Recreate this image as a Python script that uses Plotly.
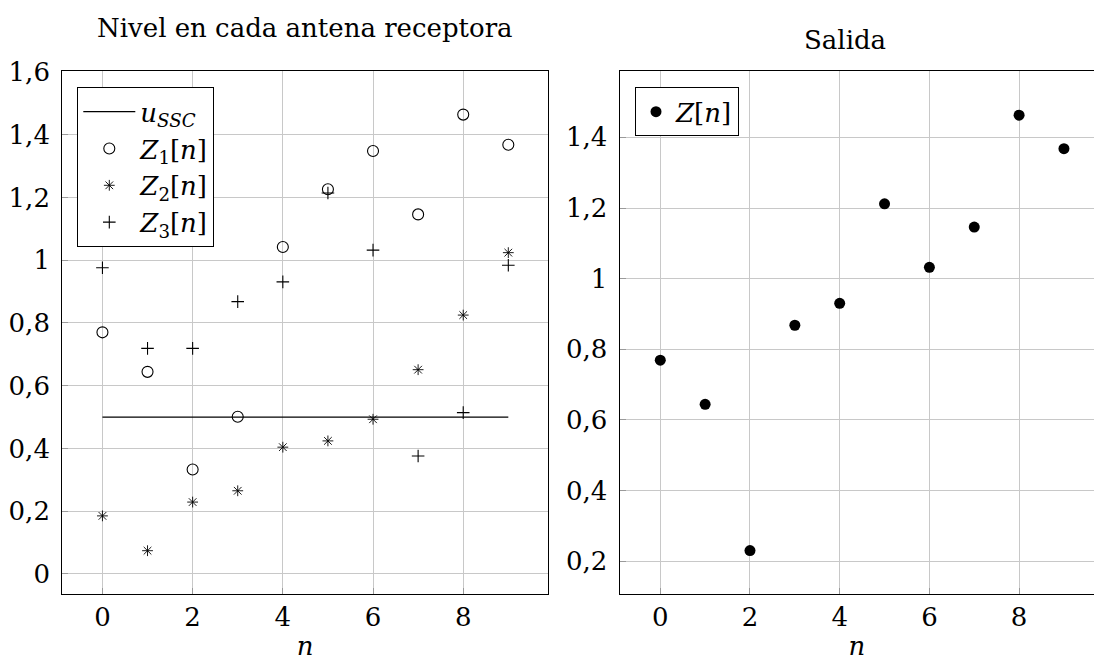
import plotly.graph_objects as go

# ---------------- data ----------------
n = [0, 1, 2, 3, 4, 5, 6, 7, 8, 9]
z1 = [0.770, 0.644, 0.333, 0.501, 1.042, 1.226, 1.348, 1.146, 1.464, 1.368]
z2 = [0.185, 0.074, 0.229, 0.265, 0.404, 0.424, 0.493, 0.651, 0.825, 1.024]
z3 = [0.976, 0.719, 0.719, 0.868, 0.931, 1.214, 1.032, 0.376, 0.514, 0.984]
z_out = [0.769, 0.644, 0.230, 0.868, 0.930, 1.212, 1.032, 1.146, 1.463, 1.368]
ussc_n = [0, 9]
ussc_val = [0.5, 0.5]

x_ticks = [0, 2, 4, 6, 8]
x_ticktext = ["0", "2", "4", "6", "8"]
y1_ticks = [0, 0.2, 0.4, 0.6, 0.8, 1.0, 1.2, 1.4, 1.6]
y1_ticktext = ["0", "0,2", "0,4", "0,6", "0,8", "1", "1,2", "1,4", "1,6"]
y2_ticks = [0.2, 0.4, 0.6, 0.8, 1.0, 1.2, 1.4]
y2_ticktext = ["0,2", "0,4", "0,6", "0,8", "1", "1,2", "1,4"]

title_left = "Nivel en cada antena receptora"
title_right = "Salida"

FONT = "DejaVu Serif"
FS = 26
W, H = 1094, 661

fig = go.Figure()

fig.add_trace(go.Scatter(x=ussc_n, y=ussc_val, mode="lines",
                         line=dict(color="black", width=1.2),
                         name="<i>u</i><sub><i>SSC</i></sub>",
                         xaxis="x", yaxis="y", legend="legend"))
fig.add_trace(go.Scatter(x=n, y=z1, mode="markers",
                         marker=dict(symbol="circle-open", size=11, color="black",
                                     line=dict(width=1.1, color="black")),
                         name="<i>Z</i><sub>1</sub>[<i>n</i>]",
                         xaxis="x", yaxis="y", legend="legend"))
fig.add_trace(go.Scatter(x=n, y=z2, mode="markers",
                         marker=dict(symbol="asterisk-open", size=9, color="black",
                                     line=dict(width=0.9, color="black")),
                         name="<i>Z</i><sub>2</sub>[<i>n</i>]",
                         xaxis="x", yaxis="y", legend="legend"))
fig.add_trace(go.Scatter(x=n, y=z3, mode="markers",
                         marker=dict(symbol="cross-thin-open", size=9, color="black",
                                     line=dict(width=1.1, color="black")),
                         name="<i>Z</i><sub>3</sub>[<i>n</i>]",
                         xaxis="x", yaxis="y", legend="legend"))

fig.add_trace(go.Scatter(x=n, y=z_out, mode="markers",
                         marker=dict(symbol="circle", size=11, color="black"),
                         name="<i>Z</i>[<i>n</i>]",
                         xaxis="x2", yaxis="y2", legend="legend2"))


def px_x(p):
    return p / W


def px_y(p):
    return 1 - p / H


top, bottom = 71, 594
axis_common = dict(showgrid=True, gridcolor="#c8c8c8", gridwidth=1,
                   zeroline=False, showline=True, linecolor="black", linewidth=1.3,
                   ticks="inside", ticklen=6, tickcolor="#9a9a9a", tickwidth=1.2,
                   automargin=False,
                   tickfont=dict(family=FONT, size=FS, color="black"))

fig.update_layout(
    width=W, height=H,
    margin=dict(l=0, r=0, t=0, b=0, autoexpand=False),
    paper_bgcolor="white", plot_bgcolor="white",
    font=dict(family=FONT, size=FS, color="black"),
    xaxis=dict(domain=[px_x(62.3), px_x(548)], range=[-0.89, 9.88],
               tickvals=x_ticks, ticktext=x_ticktext, mirror=True,
               title=dict(text="<i>n</i>", font=dict(family=FONT, size=FS), standoff=6),
               anchor="y", **axis_common),
    yaxis=dict(domain=[px_y(bottom), px_y(top)], range=[-0.064, 1.603],
               tickvals=y1_ticks, ticktext=y1_ticktext, mirror=True,
               ticklabelstandoff=6, anchor="x", **axis_common),
    xaxis2=dict(domain=[px_x(619.7), 1.0], range=[-0.905, 9.67],
                tickvals=x_ticks, ticktext=x_ticktext, mirror=True,
                title=dict(text="<i>n</i>", font=dict(family=FONT, size=FS), standoff=6),
                anchor="y2", **axis_common),
    yaxis2=dict(domain=[px_y(bottom), px_y(top)], range=[0.107, 1.588],
                tickvals=y2_ticks, ticktext=y2_ticktext, mirror=False,
                ticklabelstandoff=6, anchor="x2", **axis_common),
    legend=dict(x=px_x(77.3), y=px_y(87.3), xanchor="left", yanchor="top",
                bordercolor="black", borderwidth=1, bgcolor="white",
                font=dict(family=FONT, size=FS), tracegroupgap=0,
                itemwidth=52),
    legend2=dict(x=px_x(635), y=px_y(87.3), xanchor="left", yanchor="top",
                 bordercolor="black", borderwidth=1, bgcolor="white",
                 font=dict(family=FONT, size=FS), itemwidth=30),
    showlegend=True,
    annotations=[
        dict(text=title_left, x=px_x(305), y=px_y(28), xref="paper", yref="paper",
             showarrow=False, font=dict(family=FONT, size=FS), xanchor="center", yanchor="middle"),
        dict(text=title_right, x=px_x(845), y=px_y(40), xref="paper", yref="paper",
             showarrow=False, font=dict(family=FONT, size=FS), xanchor="center", yanchor="middle"),
    ],
)

fig.write_html("out.html")
